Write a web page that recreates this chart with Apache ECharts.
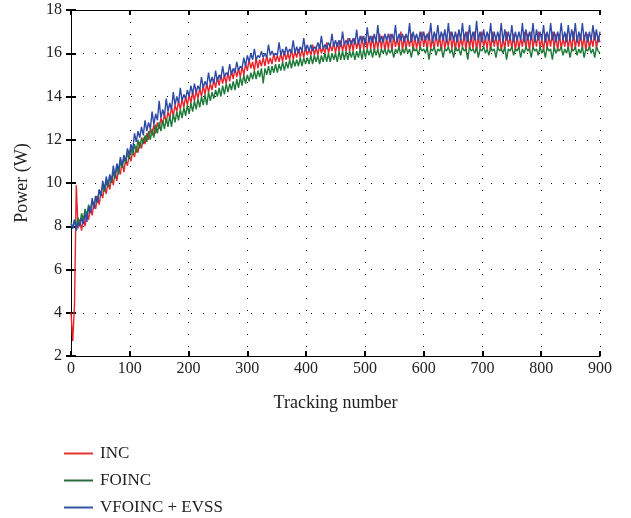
<!DOCTYPE html>
<html>
<head>
<meta charset="utf-8">
<script src="https://cdn.jsdelivr.net/npm/echarts@6/dist/echarts.min.js"></script>
<style>
  html, body { margin: 0; padding: 0; background: #fff; }
  #chart { width: 631px; height: 518px; }
</style>
</head>
<body>
<div id="chart"></div>
<script>
// Tracking steps 0, 3, 6, ... 900
const tracking = [];
for (let t = 0; t <= 900; t += 3) tracking.push(t);

const seriesNames = ['INC', 'FOINC', 'VFOINC + EVSS'];

// Output power (W) of the incremental-conductance tracker (one row = 30 steps)
const powerINC = [
  4.0, 2.7, 4.4, 9.9, 7.9, 8.3, 7.8, 8.4, 8.0, 8.6,
  8.3, 8.9, 8.5, 9.1, 8.8, 9.4, 9.0, 9.6, 9.3, 9.9,
  9.5, 10.1, 9.7, 10.3, 9.9, 10.5, 10.1, 10.7, 10.4, 11.0,
  10.5, 11.1, 10.8, 11.3, 11.0, 11.5, 11.2, 11.7, 11.4, 11.9,
  11.6, 12.1, 11.8, 12.3, 12.0, 12.5, 12.2, 12.7, 12.3, 12.8,
  12.5, 13.0, 12.7, 13.2, 12.8, 13.3, 13.0, 13.5, 13.1, 13.6,
  13.3, 13.8, 13.4, 13.9, 13.5, 14.0, 13.6, 14.1, 13.7, 14.2,
  13.8, 14.3, 13.9, 14.4, 14.0, 14.5, 14.1, 14.6, 14.2, 14.6,
  14.3, 14.8, 14.4, 14.9, 14.5, 15.0, 14.6, 15.0, 14.6, 15.1,
  14.7, 15.2, 14.8, 15.3, 14.9, 15.3, 14.9, 15.4, 15.0, 15.5,
  15.2, 15.7, 15.3, 15.6, 15.2, 15.8, 15.3, 15.7, 15.4, 15.8,
  15.4, 15.9, 15.5, 15.8, 15.5, 16.0, 15.6, 15.9, 15.6, 16.0,
  15.6, 16.1, 15.7, 16.0, 15.7, 16.2, 15.7, 16.1, 15.8, 16.2,
  15.8, 16.2, 15.8, 16.3, 15.9, 16.2, 15.9, 16.4, 15.9, 16.3,
  15.9, 16.4, 16.0, 16.3, 16.0, 16.5, 16.0, 16.4, 16.1, 16.5,
  16.0, 16.5, 16.1, 16.6, 16.1, 16.5, 16.1, 16.7, 16.1, 16.6,
  16.1, 16.7, 16.2, 16.6, 16.1, 16.8, 16.2, 16.7, 16.2, 16.8,
  16.2, 16.8, 16.1, 16.7, 16.2, 16.9, 16.2, 16.8, 16.1, 16.7,
  16.2, 16.9, 16.1, 16.8, 16.3, 16.7, 16.2, 17.0, 16.1, 16.8,
  16.2, 16.7, 16.3, 16.9, 16.1, 16.8, 16.2, 16.7, 16.2, 17.0,
  16.3, 16.8, 16.1, 17.0, 16.2, 16.7, 16.2, 16.9, 16.3, 16.8,
  16.1, 16.9, 16.2, 16.7, 16.3, 17.0, 16.2, 16.8, 16.1, 16.9,
  16.2, 16.7, 16.3, 16.9, 16.1, 17.0, 16.2, 16.8, 16.2, 17.0,
  16.1, 16.8, 16.2, 17.0, 16.3, 16.7, 16.2, 16.9, 16.1, 17.0,
  16.3, 16.8, 16.2, 16.9, 16.1, 16.7, 16.2, 17.0, 16.3, 16.8,
  16.2, 16.9, 16.1, 16.8, 16.2, 16.7, 16.3, 17.0, 16.2, 16.9,
  16.1, 17.0, 16.2, 16.8, 16.3, 17.0, 16.2, 16.7, 16.1, 16.9,
  16.2, 16.8, 16.3, 17.0, 16.2, 16.9, 16.1, 16.9, 16.2, 16.7,
  16.3, 16.9, 16.2, 16.8, 16.1, 17.0, 16.2, 16.8, 16.3, 16.9,
  16.2, 16.8, 16.1, 16.9, 16.2, 16.7, 16.3, 17.0, 16.2, 16.8,
  16.5
];

// Output power (W) of the fractional-order INC tracker
const powerFOINC = [
  8.2, 7.9, 8.3, 8.0, 8.4, 8.1, 8.6, 8.3, 8.8, 8.5,
  9.0, 8.7, 9.2, 8.9, 9.4, 9.1, 9.7, 9.4, 9.9, 9.6,
  10.1, 9.8, 10.3, 10.0, 10.5, 10.2, 10.8, 10.4, 11.0, 10.7,
  11.2, 10.9, 11.4, 11.1, 11.6, 11.3, 11.8, 11.4, 12.0, 11.6,
  12.1, 11.8, 12.2, 11.9, 12.4, 12.0, 12.5, 12.1, 12.7, 12.3,
  12.8, 12.4, 12.9, 12.5, 13.0, 12.6, 13.1, 12.6, 13.2, 12.8,
  13.3, 12.9, 13.4, 13.0, 13.5, 13.1, 13.6, 13.2, 13.7, 13.3,
  13.8, 13.4, 13.9, 13.5, 14.0, 13.6, 14.1, 13.6, 14.2, 13.8,
  14.2, 13.9, 14.3, 14.0, 14.4, 14.0, 14.5, 14.1, 14.6, 14.2,
  14.6, 14.3, 14.7, 14.3, 14.8, 14.4, 14.9, 14.5, 15.0, 14.6,
  15.0, 14.7, 15.1, 14.8, 15.2, 14.8, 15.2, 14.9, 15.3, 14.6,
  15.3, 15.0, 15.4, 15.0, 15.4, 15.1, 15.5, 15.1, 15.5, 15.2,
  15.6, 15.2, 15.6, 15.3, 15.7, 15.3, 15.7, 15.4, 15.7, 15.4,
  15.8, 15.4, 15.8, 15.5, 15.8, 15.5, 15.9, 15.5, 15.9, 15.6,
  15.9, 15.5, 15.9, 15.6, 16.0, 15.6, 16.0, 15.6, 16.0, 15.7,
  16.0, 15.6, 16.1, 15.7, 16.1, 15.7, 16.1, 15.7, 16.1, 15.8,
  16.1, 15.7, 16.1, 15.8, 16.2, 15.7, 16.2, 15.8, 16.2, 15.9,
  16.2, 15.8, 16.2, 15.9, 16.2, 15.8, 16.2, 16.0, 16.2, 15.9,
  16.2, 16.0, 16.2, 15.8, 16.2, 16.0, 16.3, 15.9, 16.2, 16.0,
  16.3, 16.0, 16.2, 15.8, 16.3, 16.1, 16.2, 15.9, 16.3, 16.1,
  16.2, 16.0, 16.3, 15.7, 16.2, 16.1, 16.3, 15.9, 16.2, 16.1,
  16.3, 15.8, 16.2, 16.1, 16.3, 16.0, 16.2, 15.8, 16.3, 16.1,
  16.2, 15.9, 16.3, 16.1, 16.2, 15.7, 16.3, 16.1, 16.2, 16.0,
  16.3, 15.8, 16.2, 16.1, 16.3, 16.0, 16.2, 15.9, 16.3, 16.1,
  16.2, 15.8, 16.3, 16.1, 16.2, 16.0, 16.3, 15.7, 16.2, 16.1,
  16.3, 15.9, 16.2, 16.1, 16.3, 15.8, 16.2, 16.0, 16.3, 16.1,
  16.2, 15.8, 16.3, 16.1, 16.2, 15.9, 16.3, 16.0, 16.2, 15.8,
  16.3, 16.1, 16.2, 15.7, 16.3, 16.0, 16.2, 16.1, 16.3, 15.9,
  16.2, 16.0, 16.3, 15.8, 16.2, 16.1, 16.3, 15.9, 16.2, 16.0,
  16.3, 15.8, 16.2, 16.1, 16.3, 16.0, 16.2, 15.8, 16.3, 16.1,
  16.0
];

// Output power (W) of the variable fractional-order INC with EVSS
const powerVFOINC = [
  8.1, 7.9, 8.3, 7.8, 8.2, 8.0, 8.4, 8.1, 8.6, 8.2,
  8.9, 8.6, 9.3, 8.8, 9.4, 9.1, 9.7, 9.4, 10.1, 9.7,
  10.3, 9.9, 10.4, 10.1, 10.8, 10.3, 10.9, 10.6, 11.2, 10.8,
  11.3, 11.0, 11.6, 11.3, 11.8, 11.5, 12.3, 11.9, 12.4, 12.1,
  12.6, 12.2, 12.9, 12.4, 12.8, 12.5, 13.3, 12.7, 13.2, 12.9,
  13.8, 13.0, 13.4, 13.1, 13.9, 13.3, 13.7, 13.4, 14.2, 13.6,
  14.0, 13.7, 14.4, 13.8, 14.1, 13.9, 14.3, 14.0, 14.5, 14.1,
  14.6, 14.2, 14.5, 14.3, 14.9, 14.4, 14.7, 14.5, 15.1, 14.6,
  14.9, 14.6, 15.2, 14.7, 15.0, 14.8, 15.4, 14.9, 15.1, 15.0,
  15.5, 15.0, 15.3, 15.1, 15.6, 15.2, 15.4, 15.3, 15.8, 15.4,
  15.9, 15.6, 16.0, 15.7, 16.2, 15.7, 15.9, 15.8, 16.1, 15.8,
  16.0, 15.8, 16.4, 15.9, 16.1, 15.9, 16.0, 15.9, 16.5, 15.9,
  16.2, 15.9, 16.3, 16.0, 16.2, 16.0, 16.6, 16.0, 16.3, 16.0,
  16.3, 16.1, 16.7, 16.1, 16.4, 16.1, 16.4, 16.1, 16.3, 16.2,
  16.5, 16.2, 16.8, 16.2, 16.4, 16.2, 16.5, 16.3, 16.9, 16.3,
  16.6, 16.3, 16.6, 16.3, 17.0, 16.4, 16.6, 16.4, 16.7, 16.4,
  16.7, 16.4, 17.1, 16.4, 16.8, 16.5, 16.8, 16.4, 17.2, 16.5,
  16.8, 16.5, 16.9, 16.5, 17.3, 16.5, 16.8, 16.5, 16.9, 16.6,
  16.9, 16.5, 16.9, 16.6, 17.3, 16.5, 16.9, 16.6, 16.9, 16.5,
  16.9, 16.6, 17.4, 16.5, 17.0, 16.6, 16.9, 16.5, 17.0, 16.6,
  17.0, 16.6, 16.9, 16.6, 17.4, 16.5, 17.0, 16.6, 17.3, 16.6,
  17.0, 16.6, 17.1, 16.5, 17.4, 16.6, 17.0, 16.6, 17.0, 16.5,
  17.1, 16.6, 17.4, 16.6, 17.0, 16.5, 17.3, 16.6, 17.0, 16.6,
  17.5, 16.6, 17.0, 16.5, 17.1, 16.6, 17.0, 16.6, 17.4, 16.5,
  17.0, 16.6, 17.0, 16.6, 17.4, 16.5, 17.1, 16.6, 17.0, 16.6,
  17.3, 16.5, 17.0, 16.6, 17.0, 16.6, 17.4, 16.5, 17.1, 16.6,
  17.0, 16.6, 17.4, 16.5, 17.1, 16.6, 17.0, 16.6, 17.3, 16.5,
  17.0, 16.6, 17.4, 16.6, 17.0, 16.5, 17.0, 16.6, 17.4, 16.6,
  17.0, 16.5, 17.3, 16.6, 17.1, 16.6, 17.4, 16.5, 17.0, 16.6,
  17.4, 16.6, 17.0, 16.5, 17.0, 16.6, 17.3, 16.6, 17.1, 16.5,
  17.0
];

const seriesColors = ['#e8232a', '#1e7a38', '#2f4aa6'];
const legendColors = ['#e53535', '#2b6a3f', '#3652a5'];
const serif = '"Liberation Serif", "DejaVu Serif", serif';

function pairs(values) {
  return tracking.map((t, i) => [t, values[i]]);
}

const chart = echarts.init(document.getElementById('chart'), null, { renderer: 'canvas' });

const dotted = { show: true, lineStyle: { color: '#000', width: 1, type: [1, 11] } };
const frameTick = { show: true, inside: true, length: 5, lineStyle: { color: '#000', width: 2 } };
const frameLine = { show: true, lineStyle: { color: '#000', width: 1 } };

chart.setOption({
  animation: false,
  backgroundColor: '#fff',
  grid: { left: 71, right: 31, top: 10, bottom: 162 },
  legend: {
    orient: 'vertical',
    left: 59,
    top: 440,
    height: 120,
    itemWidth: 29,
    itemHeight: 2,
    itemGap: 10,
    icon: 'rect',
    selectedMode: false,
    textStyle: { fontFamily: serif, fontSize: 17, color: '#222', padding: [0, 0, 0, 2] },
    data: seriesNames.map((n, i) => ({ name: n, itemStyle: { color: legendColors[i] } }))
  },
  xAxis: [
    {
      type: 'value', min: 0, max: 900, interval: 100,
      name: 'Tracking number', nameLocation: 'middle', nameGap: 38,
      nameTextStyle: { fontFamily: serif, fontSize: 18, color: '#222' },
      axisLine: frameLine,
      axisTick: frameTick,
      axisLabel: { fontFamily: serif, fontSize: 16, color: '#222', margin: 5 },
      splitLine: dotted
    },
    {
      type: 'value', min: 0, max: 900, interval: 100, position: 'top',
      axisLine: frameLine, axisTick: frameTick,
      axisLabel: { show: false }, splitLine: { show: false }
    }
  ],
  yAxis: [
    {
      type: 'value', min: 2, max: 18, interval: 2,
      name: 'Power (W)', nameLocation: 'middle', nameGap: 40, nameRotate: 90,
      nameTextStyle: { fontFamily: serif, fontSize: 18, color: '#222' },
      axisLine: frameLine,
      axisTick: frameTick,
      axisLabel: { fontFamily: serif, fontSize: 16, color: '#222', margin: 9 },
      splitLine: dotted
    },
    {
      type: 'value', min: 2, max: 18, interval: 2, position: 'right',
      axisLine: frameLine, axisTick: frameTick,
      axisLabel: { show: false }, splitLine: { show: false }
    }
  ],
  series: [powerINC, powerFOINC, powerVFOINC].map((vals, i) => ({
    name: seriesNames[i],
    type: 'line',
    data: pairs(vals),
    symbol: 'none',
    showSymbol: false,
    clip: true,
    lineStyle: { color: seriesColors[i], width: 1.4 },
    itemStyle: { color: legendColors[i] },
    z: 2 + i
  }))
});
</script>
</body>
</html>
